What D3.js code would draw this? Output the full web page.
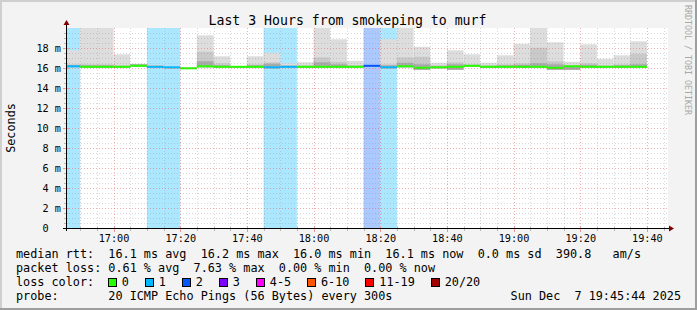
<!DOCTYPE html>
<html><head><meta charset="utf-8">
<script src="https://cdn.jsdelivr.net/npm/d3@7/dist/d3.min.js"></script>
<style>
html,body{margin:0;padding:0;background:#f3f3f3;overflow:hidden;}
svg{display:block;}
text{font-family:"DejaVu Sans Mono",monospace;}
</style></head><body>
<svg id="chart" width="697" height="310"></svg>
<script>
// ---------------- data ----------------
const title = "Last 3 Hours from smokeping to murf";
const yAxisTitle = "Seconds";
const watermark = "RRDTOOL / TOBI OETIKER";
const rangeStart = "2025-12-07 16:45:44";
const rangeEnd = "2025-12-07 19:45:44";
const stepSeconds = 300;
const stepTimes = ["16:45","16:50","16:55","17:00","17:05","17:10","17:15","17:20","17:25","17:30","17:35","17:40","17:45","17:50","17:55","18:00","18:05","18:10","18:15","18:20","18:25","18:30","18:35","18:40","18:45","18:50","18:55","19:00","19:05","19:10","19:15","19:20","19:25","19:30","19:35"];
// milliseconds
const medianRtt = [16.2,16.15,16.15,16.15,16.25,16.15,16.1,16.0,16.2,16.15,16.15,16.15,16.1,16.15,16.15,16.15,16.15,16.15,16.25,16.1,16.2,16.05,16.1,16.15,16.25,16.15,16.15,16.15,16.15,16.05,16.2,16.15,16.15,16.15,16.15];
const smokeMin = [16.1,16.05,16.05,16.05,16.15,16.05,16.0,15.95,16.1,16.05,16.05,16.05,16.0,16.05,16.05,16.05,16.05,16.05,16.15,16.0,16.1,15.85,16.0,15.85,16.15,16.05,16.05,16.05,16.05,15.85,15.85,16.05,16.05,16.05,16.05];
const smokeInner = [16.3,16.3,16.3,16.2,16.4,16.25,16.1,16.05,16.7,16.3,16.15,16.3,16.45,16.25,16.2,16.6,16.4,16.25,16.3,16.3,16.55,16.4,16.2,16.4,16.3,16.2,16.3,16.35,16.5,16.4,16.25,16.35,16.2,16.3,16.4];
const smokeMid = [16.4,16.4,16.4,16.3,16.4,16.3,16.15,16.05,17.65,16.5,16.15,16.4,16.6,16.3,16.3,17.1,16.65,16.3,16.3,16.4,17.1,17.15,16.3,16.6,16.4,16.3,16.4,16.5,18.05,16.7,16.3,16.5,16.3,16.4,17.45];
const smokeMax = [17.8,22,22,17.4,16.45,16.35,16.2,16.05,19.3,17.2,16.2,17.2,17.56,16.5,16.6,22,18.9,16.75,16.3,18.9,22,18.15,16.55,17.8,17.4,16.55,17.3,18.45,22,18.6,16.65,18.4,16.95,17.3,18.7];
const lossCount = [1,0,0,0,0,1,1,0,0,0,0,0,1,1,0,0,0,0,2,1,0,0,0,0,0,0,0,0,0,0,0,0,0,0,0];
const lossLabels = ["0","1","2","3","4-5","6-10","11-19","20/20"];
const lossUpper = [0,1,2,3,5,10,19,20];
const lossColors = ["#26ff00","#00b8ff","#0059ff","#7e00ff","#ff00ff","#ff5500","#ff0000","#a10000"];
const xTickLabels = ["17:00","17:20","17:40","18:00","18:20","18:40","19:00","19:20","19:40"];
const yTickValues = [0,2,4,6,8,10,12,14,16,18];
const yTickLabels = ["0","2 m","4 m","6 m","8 m","10 m","12 m","14 m","16 m","18 m"];
const legendRtt = "median rtt:  16.1 ms avg  16.2 ms max  16.0 ms min  16.1 ms now  0.0 ms sd  390.8   am/s";
const legendLoss = "packet loss: 0.61 % avg  7.63 % max  0.00 % min  0.00 % now";
const legendLossColor = "loss color:";
const legendProbe = "probe:       20 ICMP Echo Pings (56 Bytes) every 300s";
const timestamp = "Sun Dec  7 19:45:44 2025";

// ---------------- layout ----------------
const W = 697, H = 310;
const L = 66, R = 666, T = 28, B = 228;
const charW = 7.1;
const parseFull = d3.timeParse("%Y-%m-%d %H:%M:%S");
const parseHM = s => parseFull("2025-12-07 " + s + ":00");

const x = d3.scaleTime().domain([parseFull(rangeStart), parseFull(rangeEnd)]).range([L, R]);
const y = d3.scaleLinear().domain([0, 20]).range([B + 0.3, T + 0.3]);

const svg = d3.select("#chart");
svg.append("rect").attr("width", W).attr("height", H).attr("fill", "#f3f3f3");
// 3D frame
svg.append("rect").attr("x",0).attr("y",0).attr("width",W).attr("height",2).attr("fill","#cfcfcf");
svg.append("rect").attr("x",0).attr("y",0).attr("width",2).attr("height",H).attr("fill","#cfcfcf");
svg.append("rect").attr("x",0).attr("y",H-2).attr("width",W).attr("height",2).attr("fill","#9e9e9e");
svg.append("rect").attr("x",W-2).attr("y",0).attr("width",2).attr("height",H).attr("fill","#9e9e9e");

// canvas
svg.append("rect").attr("x", L).attr("y", T).attr("width", R - L + 2).attr("height", B - T).attr("fill", "#ffffff");
svg.append("clipPath").attr("id","plotclip").append("rect").attr("x", L).attr("y", T).attr("width", R - L + 2).attr("height", B - T);

const plot = svg.append("g").attr("clip-path","url(#plotclip)");
const bars = stepTimes.map((t, i) => {
  const s = parseHM(t);
  const e = new Date(s.getTime() + stepSeconds * 1000);
  return {i, x0: Math.max(L, x(s)), x1: x(e), med: medianRtt[i], min: smokeMin[i], inner: smokeInner[i], mid: smokeMid[i], max: smokeMax[i], loss: lossCount[i]};
});
const lossIndex = n => lossUpper.findIndex(u => n <= u);

// loss backgrounds
plot.selectAll("rect.lossbg").data(bars.filter(d => d.loss > 0)).join("rect")
  .attr("class","lossbg")
  .attr("x", d => d.x0).attr("width", d => d.x1 - d.x0)
  .attr("y", T).attr("height", B - T)
  .attr("fill", d => lossColors[lossIndex(d.loss)]).attr("fill-opacity", 0.33);

// smoke
const smokeLayers = [["max","#dddddd"],["mid","#c9c9c9"],["inner","#a9a9a9"]];
smokeLayers.forEach(([k, col]) => {
  plot.selectAll("rect.smoke-" + k).data(bars.filter(d => d[k] > d.min)).join("rect")
    .attr("class","smoke-" + k)
    .attr("x", d => d.x0).attr("width", d => d.x1 - d.x0)
    .attr("y", d => y(d[k])).attr("height", d => y(d.min) - y(d[k]))
    .attr("fill", col);
});

// grid
const grid = svg.append("g").attr("shape-rendering","crispEdges");
const minorY = d3.range(1, 40).map(v => v / 2).filter(v => v % 2 !== 0);
const majorY = yTickValues.filter(v => v > 0);
const minorCol = "rgba(143,143,143,0.35)", majorCol = "rgba(222,80,80,0.45)";
grid.selectAll("line.gy").data(minorY).join("line")
  .attr("x1", L).attr("x2", R + 2).attr("y1", d => Math.round(y(d)) + 0.5).attr("y2", d => Math.round(y(d)) + 0.5)
  .attr("stroke", minorCol).attr("stroke-dasharray","1,2");
grid.selectAll("line.gmy").data(majorY).join("line")
  .attr("x1", L).attr("x2", R + 2).attr("y1", d => Math.round(y(d)) + 0.5).attr("y2", d => Math.round(y(d)) + 0.5)
  .attr("stroke", majorCol).attr("stroke-dasharray","1,2");
const allMinor = d3.timeMinute.every(5).range(parseFull(rangeStart), parseFull(rangeEnd));
const xMajorDates = xTickLabels.map(parseHM);
const isMajor = d => d.getMinutes() % 20 === 0;
grid.selectAll("line.gx").data(allMinor.filter(d => !isMajor(d))).join("line")
  .attr("x1", d => Math.round(x(d)) + 0.5).attr("x2", d => Math.round(x(d)) + 0.5).attr("y1", T).attr("y2", B)
  .attr("stroke", minorCol).attr("stroke-dasharray","1,2");
grid.selectAll("line.gmx").data(xMajorDates).join("line")
  .attr("x1", d => Math.round(x(d)) + 0.5).attr("x2", d => Math.round(x(d)) + 0.5).attr("y1", T).attr("y2", B)
  .attr("stroke", majorCol).attr("stroke-dasharray","1,2");

// median lines coloured by loss
plot.selectAll("rect.median").data(bars).join("rect")
  .attr("class","median")
  .attr("x", d => d.x0).attr("width", d => d.x1 - d.x0)
  .attr("y", d => y(d.med) - 1).attr("height", 2)
  .attr("fill", d => lossColors[lossIndex(d.loss)]);

// ticks on axes
const ticks = svg.append("g").attr("shape-rendering","crispEdges");
ticks.selectAll("line.tx").data(allMinor.filter(d => !isMajor(d))).join("line")
  .attr("x1", d => Math.round(x(d)) + 0.5).attr("x2", d => Math.round(x(d)) + 0.5).attr("y1", B - 1).attr("y2", B + 3)
  .attr("stroke", "#b8b8b8");
ticks.selectAll("line.tmx").data(xMajorDates).join("line")
  .attr("x1", d => Math.round(x(d)) + 0.5).attr("x2", d => Math.round(x(d)) + 0.5).attr("y1", B - 2).attr("y2", B + 4)
  .attr("stroke", "#e89a9a");
ticks.selectAll("line.ty").data(minorY).join("line")
  .attr("x1", L - 2).attr("x2", L + 2).attr("y1", d => Math.round(y(d)) + 0.5).attr("y2", d => Math.round(y(d)) + 0.5)
  .attr("stroke", "#b8b8b8");
ticks.selectAll("line.tmy").data(majorY).join("line")
  .attr("x1", L - 3).attr("x2", L + 3).attr("y1", d => Math.round(y(d)) + 0.5).attr("y2", d => Math.round(y(d)) + 0.5)
  .attr("stroke", "#e89a9a");

// axes lines + arrows
const ax = svg.append("g").attr("shape-rendering","crispEdges");
ax.append("line").attr("x1", L - 3).attr("x2", R + 4).attr("y1", B + 0.5).attr("y2", B + 0.5).attr("stroke","#000");
ax.append("line").attr("x1", L + 0.5).attr("x2", L + 0.5).attr("y1", B + 3).attr("y2", T - 3).attr("stroke","#000");
svg.append("path").attr("d", `M${R+3},${B-2.5} L${R+8},${B+0.5} L${R+3},${B+3.5} Z`).attr("fill","#7f0000");
svg.append("path").attr("d", `M${L-2.5},${T-3} L${L+0.5},${T-8} L${L+3.5},${T-3} Z`).attr("fill","#7f0000");

// axis labels
svg.selectAll("text.xl").data(xTickLabels).join("text")
  .attr("x", d => x(parseHM(d)) + 0.5).attr("y", B + 13.5)
  .attr("text-anchor","middle").attr("font-size","10.2px").attr("fill","#000").text(d => d);
svg.selectAll("text.yl").data(yTickValues).join("text")
  .attr("x", L - 5).attr("y", d => y(d) + 3.8)
  .attr("text-anchor","end").attr("font-size","10.2px").attr("fill","#000")
  .attr("xml:space","preserve").style("white-space","pre")
  .text((d, i) => yTickLabels[i].includes(" ") ? yTickLabels[i] : yTickLabels[i] + "  ");

// title
svg.append("text").attr("x", 347.5).attr("y", 24.5).attr("text-anchor","middle")
  .attr("font-size","13.2px").attr("fill","#000").text(title);
// y axis title
svg.append("text").attr("transform","translate(15,128) rotate(-90)").attr("text-anchor","middle")
  .attr("font-size","11.8px").attr("fill","#000").text(yAxisTitle);
// watermark
svg.append("text").attr("transform","translate(684.5,5) rotate(90)").attr("text-anchor","start")
  .attr("font-size","8.3px").attr("fill","#a8a8a8").text(watermark);

// legend
const leg = svg.append("g").attr("font-size","11.8px").attr("fill","#000");
const row = (txt, yy) => leg.append("text").attr("x", 16).attr("y", yy)
  .attr("xml:space","preserve").style("white-space","pre").text(txt);
row(legendRtt, 258);
row(legendLoss, 272);
row(legendLossColor, 286);
row(legendProbe, 300);
leg.append("text").attr("x", 681).attr("y", 300).attr("text-anchor","end")
  .attr("xml:space","preserve").style("white-space","pre").text(timestamp);
let lx = 16 + 13 * charW - 0.5;
lossLabels.forEach((lab, i) => {
  leg.append("rect").attr("x", lx + 0.5).attr("y", 278.5).attr("width", 8).attr("height", 8)
    .attr("fill", lossColors[i]).attr("stroke","#000").attr("stroke-width",1).attr("shape-rendering","crispEdges");
  leg.append("text").attr("x", lx + 14).attr("y", 286).text(lab);
  lx += 29.9 + lab.length * charW;
});
</script>
</body></html>
